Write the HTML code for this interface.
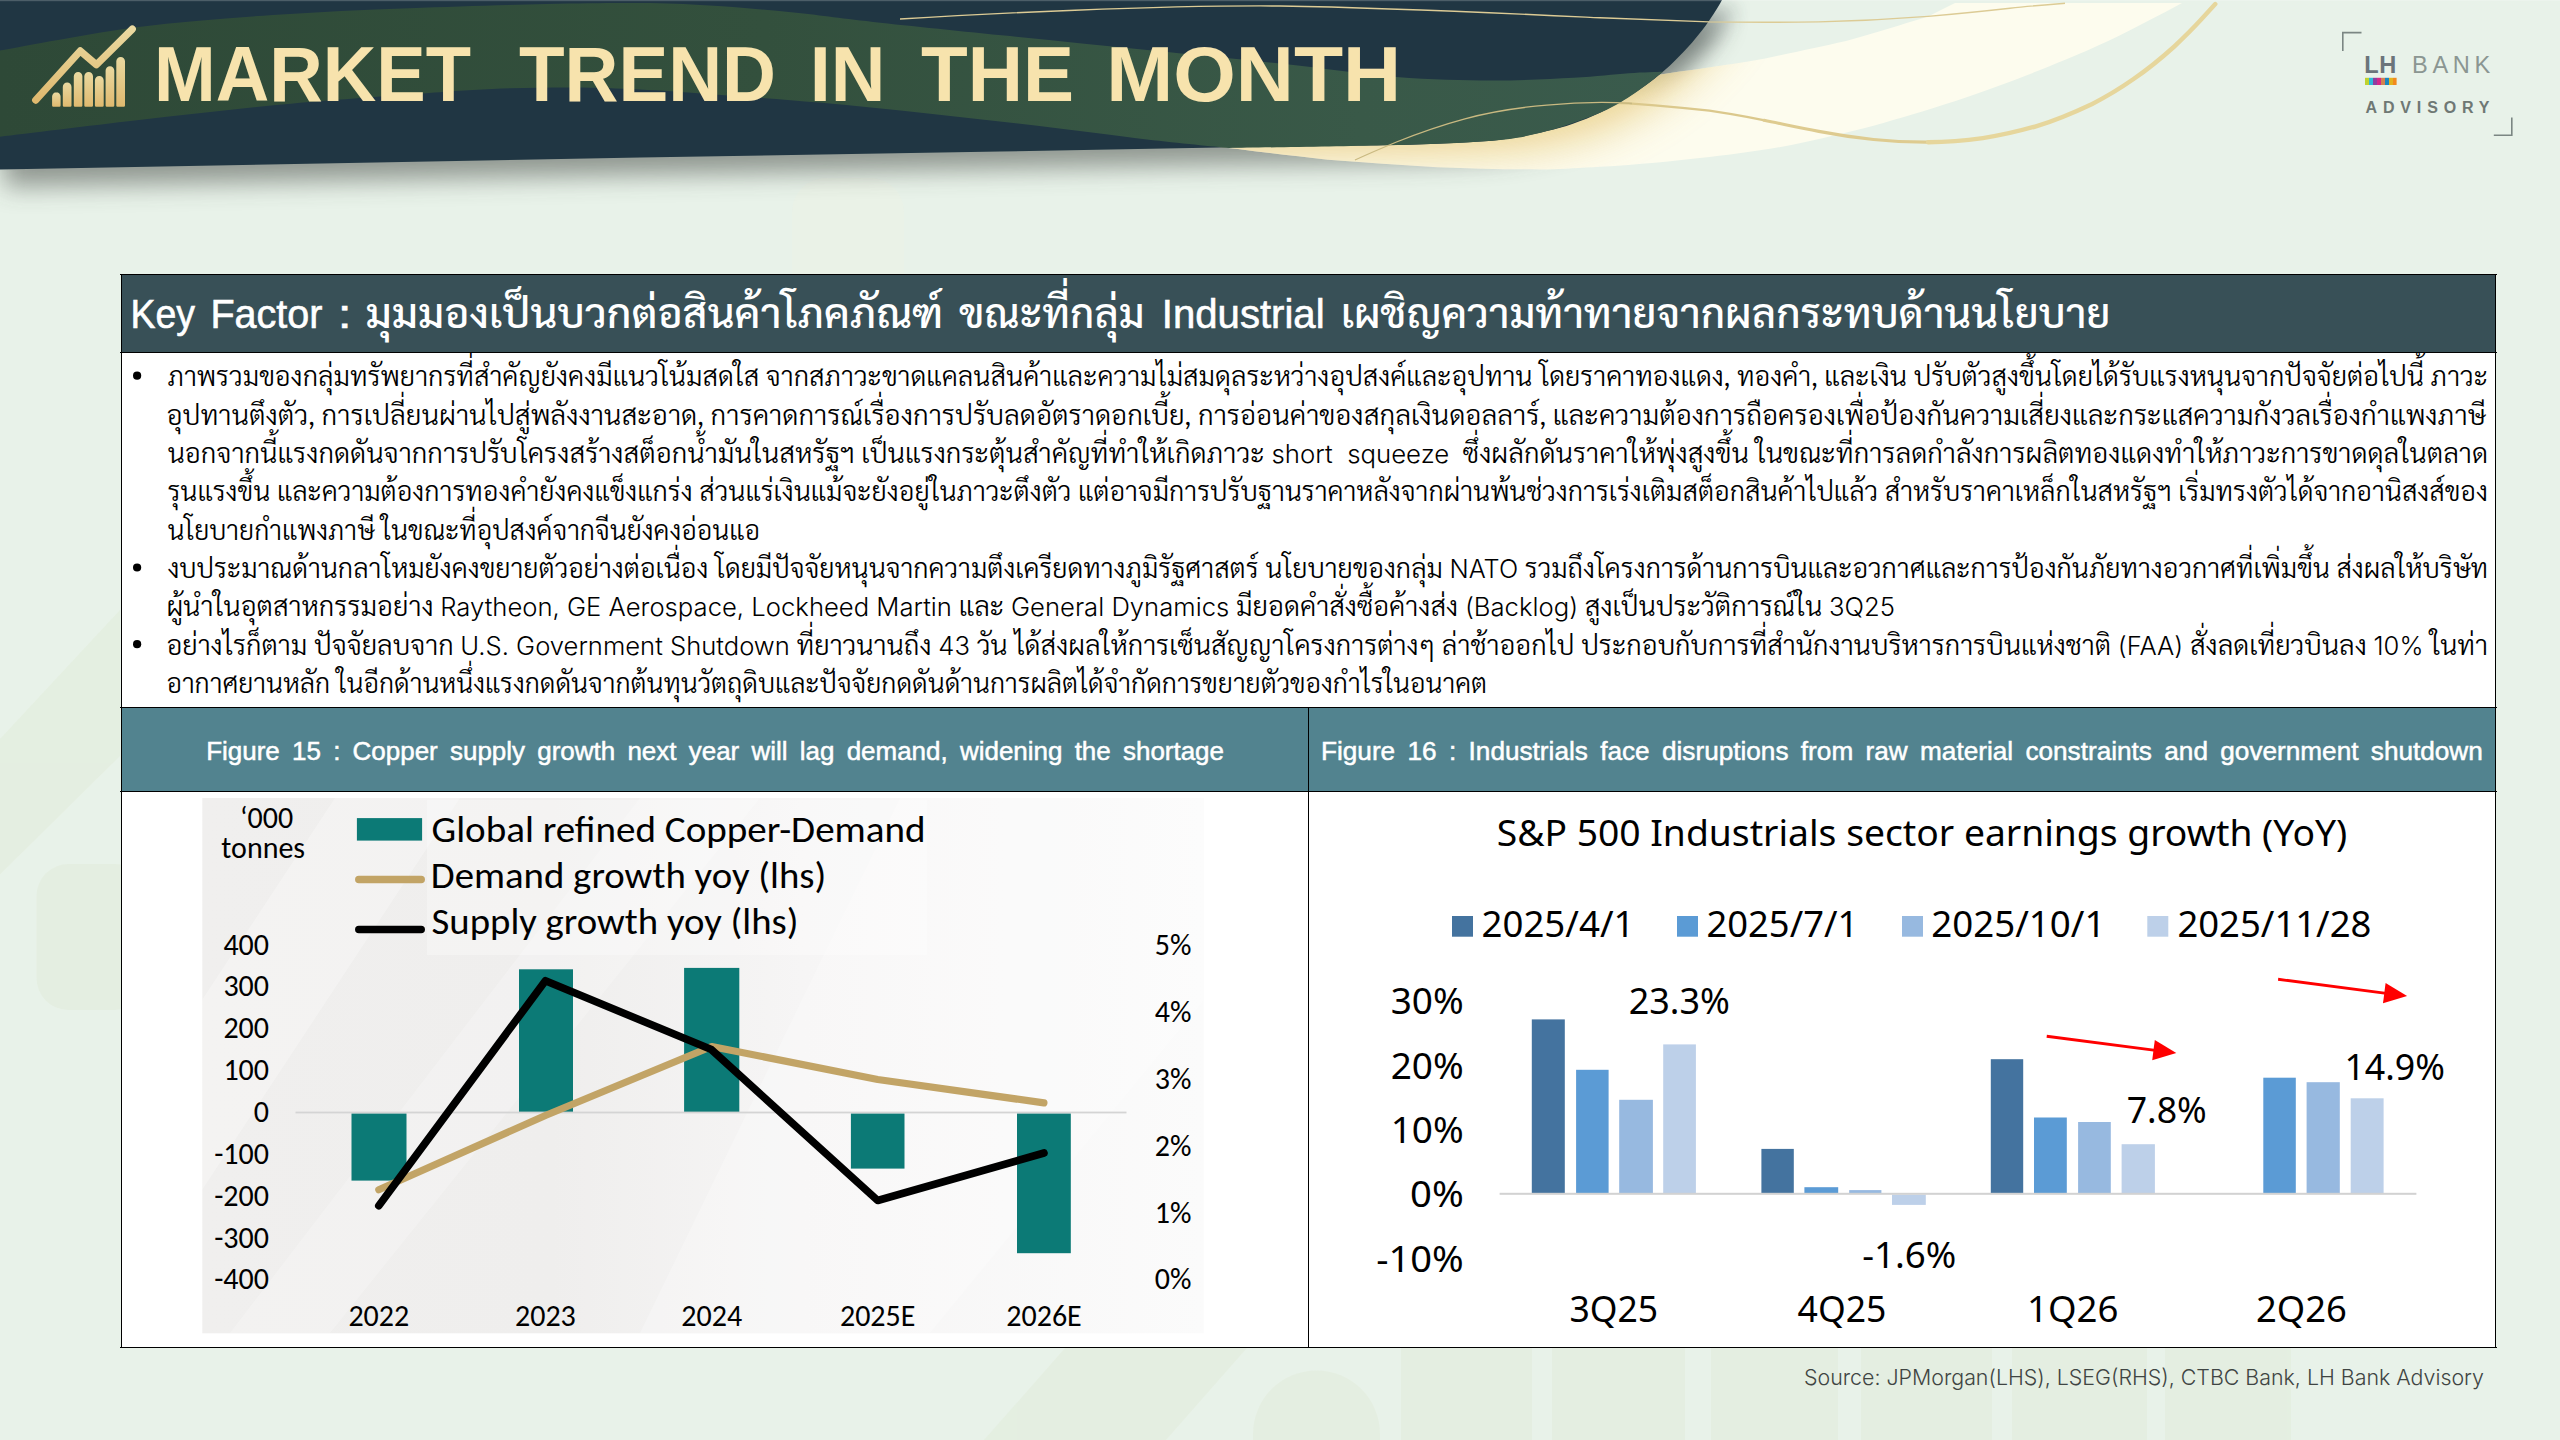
<!DOCTYPE html>
<html lang="th">
<head>
<meta charset="utf-8">
<title>Market Trend in the Month</title>
<style>
html,body{margin:0;padding:0;}
body{width:2560px;height:1440px;overflow:hidden;background:#e8f2e9;position:relative;font-family:"Liberation Sans","Sarabun","Loma","Noto Sans Thai",sans-serif;}
.abs{position:absolute;}
#bgdeco,#hdr{position:absolute;left:0;top:0;}
.ln{position:absolute;background:#000;}
#ttl{position:absolute;left:122px;top:275px;width:2373px;height:77px;background:#385057;}
#body{position:absolute;left:122px;top:353px;width:2373px;height:354px;background:#fff;}
.fh{position:absolute;top:708px;height:83px;background:#52838f;}
.cell{position:absolute;top:792px;height:555px;background:#fff;}
#src{position:absolute;left:0;top:1355px;}
#srct{font-family:"Inter","Liberation Sans","Sarabun",sans-serif;font-size:21.6px;font-weight:300;fill:#3f4543;white-space:pre}
</style>
</head>
<body>
<svg id="bgdeco" width="2560" height="1440" viewBox="0 0 2560 1440">
<g fill="#dfe8d4" opacity="0.36">
<polygon points="0,739 120,610 120,756 0,874.6"/>
<rect x="36.5" y="864" width="110" height="146" rx="32"/>
<polygon points="1065,1348 1247,1348 1166,1440 984,1440"/>
<path d="M1253,1440 L1253,1434 A63.5,63.5 0 0 1 1380,1434 L1380,1440 Z"/>
<rect x="1401" y="1348" width="131" height="92"/>
<rect x="1552" y="1348" width="133" height="92"/>
<rect x="1711" y="1348" width="127" height="92"/>
<rect x="1861" y="1348" width="131" height="92"/>
<rect x="2012" y="1348" width="135" height="92"/>
<rect x="2165" y="1348" width="126" height="92"/>
</g>
<rect x="792" y="178" width="112" height="130" rx="34" fill="#f2f3e0" opacity="0.22"/>
</svg>
<svg id="hdr" width="2560" height="270" viewBox="0 0 2560 270">
<defs>
<linearGradient id="gGreen" x1="0" y1="0" x2="1700" y2="0" gradientUnits="userSpaceOnUse">
<stop offset="0" stop-color="#2e4937"/><stop offset="0.45" stop-color="#33503d"/><stop offset="0.8" stop-color="#395948"/><stop offset="1" stop-color="#3a5b4d"/>
</linearGradient>
<linearGradient id="gCream" x1="1230" y1="0" x2="1760" y2="0" gradientUnits="userSpaceOnUse">
<stop offset="0" stop-color="#f0dc9f"/><stop offset="0.35" stop-color="#f4e6b6"/><stop offset="0.7" stop-color="#fbf6dc"/><stop offset="1" stop-color="#fdfcee"/>
</linearGradient>
<linearGradient id="gGold" x1="0" y1="0" x2="0" y2="1">
<stop offset="0" stop-color="#ead9a0"/><stop offset="1" stop-color="#dfb96f"/>
</linearGradient>
<filter id="fSh" x="-5%" y="-30%" width="110%" height="180%"><feGaussianBlur stdDeviation="9"/></filter>
<filter id="fSh2" x="-5%" y="-30%" width="110%" height="220%"><feGaussianBlur stdDeviation="13"/></filter>
<filter id="fGl" x="-5%" y="-30%" width="110%" height="180%"><feGaussianBlur stdDeviation="22"/></filter>
<linearGradient id="gUp" x1="0" y1="45" x2="0" y2="105" gradientUnits="userSpaceOnUse"><stop offset="0" stop-color="#fff"/><stop offset="1" stop-color="#000"/></linearGradient>
<mask id="mUp" maskUnits="userSpaceOnUse" x="0" y="0" width="2560" height="270"><rect x="0" y="0" width="2560" height="270" fill="url(#gUp)"/></mask>
<clipPath id="cpCream"><path d="M1150,120 L1646,76.6 C1690,70 1730,65 1764,58.8 C1795,52 1820,47 1846,41 C1875,33 1900,25 1928,16.4 L1955,3 L2182,3 C2160,15 2140,25 2119.6,35.5 C2090,50 2065,60 2037.5,71 C2010,82 1985,91 1955.5,101 C1925,111 1900,118 1873.5,125.8 C1845,133 1820,139 1791.4,145 C1765,150 1740,153.5 1709.4,157 C1670,161.5 1640,164.5 1600,166.8 C1580,168 1565,169 1547,169.4 C1510,169.5 1475,168.6 1437.5,167.2 C1400,165 1365,162.7 1328,159.8 C1295,156 1265,152.5 1238,148.9 L1150,140 Z"/></clipPath>
<path id="pNavy" d="M0,0 L1722,0 C1712,18 1697,40 1670,65.5 C1650,84 1625,100 1601.6,112 C1580,122 1565,127 1546.9,131.1 C1525,136.5 1510,138.7 1492.2,140.7 C1455,143.6 1420,144.6 1382.8,145.3 L1218.8,147.5 L1000,151.6 L640,157.5 L0,169.5 Z"/>
</defs>
<!-- shadow below band -->
<use href="#pNavy" transform="translate(4,17)" fill="#3d423d" opacity="0.52" filter="url(#fSh2)"/>
<!-- cream swoosh -->
<path d="M1150,120 L1646,76.6 C1690,70 1730,65 1764,58.8 C1795,52 1820,47 1846,41 C1875,33 1900,25 1928,16.4 L1955,3 L2182,3 C2160,15 2140,25 2119.6,35.5 C2090,50 2065,60 2037.5,71 C2010,82 1985,91 1955.5,101 C1925,111 1900,118 1873.5,125.8 C1845,133 1820,139 1791.4,145 C1765,150 1740,153.5 1709.4,157 C1670,161.5 1640,164.5 1600,166.8 C1580,168 1565,169 1547,169.4 C1510,169.5 1475,168.6 1437.5,167.2 C1400,165 1365,162.7 1328,159.8 C1295,156 1265,152.5 1238,148.9 L1150,140 Z" fill="#fdfcee"/>
<g clip-path="url(#cpCream)"><use href="#pNavy" transform="translate(18,8)" fill="#e6c878" opacity="0.82" filter="url(#fGl)"/></g>
<!-- grey shadow right of dark shape -->
<g opacity="0.2" mask="url(#mUp)"><use href="#pNavy" transform="translate(16,6)" fill="#27343a" filter="url(#fSh)"/></g>
<!-- gold lines -->
<path d="M1601.6,102.4 C1620,102.8 1636,103.6 1654.7,105.3 C1675,107 1690,108.5 1709.4,110.7 C1730,113.5 1745,116.5 1764.1,120.3" fill="none" stroke="#dbc88c" stroke-width="2.2" stroke-linecap="round"/>
<path d="M1764.1,120.3 C1785,124.5 1800,128 1818.8,131.3 C1838,135 1855,137.5 1873.5,139.5 C1892,141.5 1908,142.3 1928.1,142.2" fill="none" stroke="#decb90" stroke-width="3.2" stroke-linecap="round"/>
<path d="M1928.1,142.2 C1948,142 1963,140.8 1982.8,138.1 C2003,135 2018,131.5 2037.5,125.8 C2058,119.5 2073,113 2092.2,103.9 C2108,96 2120,88.5 2133.2,79.3 C2149,68.5 2161,58.5 2174.3,46.5 C2185,36.5 2193,28.5 2201.6,19.1 L2215.3,4.1" fill="none" stroke="#e6d69c" stroke-width="4.4" stroke-linecap="round"/>
<!-- dark band -->
<use href="#pNavy" fill="#203643"/>
<path d="M0.0,50.6 C22.8,46.7 91.2,33.2 136.7,27.3 C182.2,21.4 227.4,18.2 273.0,15.0 C318.6,11.8 364.3,10.0 410.0,8.2 C455.7,6.4 508.7,4.9 547.0,4.0 C585.3,3.1 613.0,2.8 640.0,3.0 C667.0,3.2 683.8,4.0 709.0,5.5 C734.2,7.0 763.7,9.6 791.0,12.3 C818.3,15.0 836.5,17.9 873.0,21.9 C909.5,25.9 964.3,31.4 1010.0,36.1 C1055.7,40.8 1102.0,45.4 1147.0,50.0 C1192.0,54.6 1238.5,59.1 1280.0,63.6 C1321.5,68.1 1360.7,74.2 1396.0,77.0 C1431.3,79.8 1462.3,80.4 1492.0,80.5 C1521.7,80.6 1551.2,79.0 1574.0,77.8 C1596.8,76.6 1614.2,74.3 1629.0,73.3 C1643.8,72.3 1657.3,72.0 1663.0,71.8 C1658.3,75.3 1645.2,86.3 1635.0,93.0 C1624.8,99.7 1616.3,105.7 1601.6,112.0 C1586.9,118.3 1565.1,126.3 1546.9,131.1 C1528.7,135.9 1519.6,138.3 1492.2,140.7 C1464.8,143.1 1426.7,144.1 1382.8,145.3 C1338.9,146.5 1254.6,147.6 1229.0,148.0 C1215.3,146.6 1178.9,143.2 1147.0,139.5 C1115.1,135.8 1074.0,130.1 1037.5,125.8 C1001.0,121.5 964.4,117.4 928.0,113.5 C891.6,109.6 855.5,105.8 819.0,102.5 C782.5,99.2 738.8,96.2 709.0,94.0 C679.2,91.8 662.5,90.6 640.0,89.5 C617.5,88.4 598.7,87.6 574.0,87.5 C549.3,87.4 519.3,87.8 492.0,88.9 C464.7,90.0 446.4,91.6 410.0,94.3 C373.6,97.0 318.9,101.0 273.4,105.3 C227.8,109.6 182.3,115.1 136.7,120.3 C91.1,125.5 22.8,134.0 0.0,136.7 Z" fill="url(#gGreen)"/>
<path d="M900,19 C980,14 1160,5 1280,6 C1400,8 1500,13 1600,17.8 C1650,20 1680,21 1709,21.9 C1750,22.5 1780,22.5 1818.8,21.9 C1860,21 1895,19 1928,16.4 C1960,13.5 1985,11 2010,8.2 C2030,6 2050,4.5 2065,3.3" fill="none" stroke="#dccb95" stroke-width="1.4"/>
<path d="M1355,160 C1368,154 1382,148 1396.5,142 C1420,132.5 1440,125.5 1464.9,118.8 C1492,111.5 1518,107.5 1546.9,105.1 C1566,103.4 1582,102.6 1601.6,102.4 C1612,102.5 1622,102.9 1632,103.5" fill="none" stroke="#c9b981" stroke-width="1.3"/>
<!-- top strip -->
<rect x="0" y="0" width="2560" height="1.2" fill="#ffffff" opacity="0.2"/>
<!-- icon -->
<g>
<polyline points="35.7,100.2 80.3,50.9 96.4,64.7 132.3,29.1" fill="none" stroke="url(#gGold)" stroke-width="7.2" stroke-linecap="round" stroke-linejoin="round"/>
<g fill="url(#gGold)">
<path d="M52.1,105.6 v-9.1 a4.3,4.3 0 0 1 4.3,-4.3 h-0.1 a4.3,4.3 0 0 1 4.3,4.3 v9.1 a1.2,1.2 0 0 1 -1.2,1.2 h-6.1 a1.2,1.2 0 0 1 -1.2,-1.2 z"/>
<path d="M62.8,105.6 v-18.7 a4.3,4.3 0 0 1 4.3,-4.3 h0.1 a4.3,4.3 0 0 1 4.3,4.3 v18.7 a1.2,1.2 0 0 1 -1.2,1.2 h-6.3 a1.2,1.2 0 0 1 -1.2,-1.2 z"/>
<path d="M73.8,105.6 v-29.4 a4.3,4.3 0 0 1 4.3,-4.3 h0.0 a4.3,4.3 0 0 1 4.3,4.3 v29.4 a1.2,1.2 0 0 1 -1.2,1.2 h-6.2 a1.2,1.2 0 0 1 -1.2,-1.2 z"/>
<path d="M84.3,105.6 v-29.4 a4.3,4.3 0 0 1 4.3,-4.3 h0.1 a4.3,4.3 0 0 1 4.3,4.3 v29.4 a1.2,1.2 0 0 1 -1.2,1.2 h-6.3 a1.2,1.2 0 0 1 -1.2,-1.2 z"/>
<path d="M94.9,105.6 v-25.2 a4.3,4.3 0 0 1 4.3,-4.3 h0.2 a4.3,4.3 0 0 1 4.3,4.3 v25.2 a1.2,1.2 0 0 1 -1.2,1.2 h-6.4 a1.2,1.2 0 0 1 -1.2,-1.2 z"/>
<path d="M105.6,105.6 v-35.1 a4.3,4.3 0 0 1 4.3,-4.3 h0.1 a4.3,4.3 0 0 1 4.3,4.3 v35.1 a1.2,1.2 0 0 1 -1.2,1.2 h-6.3 a1.2,1.2 0 0 1 -1.2,-1.2 z"/>
<path d="M116.3,105.6 v-44.3 a4.3,4.3 0 0 1 4.3,-4.3 h0.1 a4.3,4.3 0 0 1 4.3,4.3 v44.3 a1.2,1.2 0 0 1 -1.2,1.2 h-6.3 a1.2,1.2 0 0 1 -1.2,-1.2 z"/>
</g>
</g>
<text id="mtitle" y="101.3" font-family="'Liberation Sans',sans-serif" font-weight="700" font-size="78" fill="#f7e3ad"><tspan x="154.0" textLength="317.0" lengthAdjust="spacingAndGlyphs">MARKET</tspan> <tspan x="519.0" textLength="257.0" lengthAdjust="spacingAndGlyphs">TREND</tspan> <tspan x="809.7" textLength="75.7" lengthAdjust="spacingAndGlyphs">IN</tspan> <tspan x="921.0" textLength="153.0" lengthAdjust="spacingAndGlyphs">THE</tspan> <tspan x="1106.3" textLength="294.8" lengthAdjust="spacingAndGlyphs">MONTH</tspan></text>
<!-- logo -->
<g fill="none" stroke="#7b8683" stroke-width="1.6">
<polyline points="2342.8,51 2342.8,32.6 2361.5,32.6"/>
<polyline points="2493.8,135.3 2511.8,135.3 2511.8,117.5"/>
</g>
<text x="2364.3" y="72.5" font-family="'Liberation Sans',sans-serif" font-weight="700" font-size="23.6" fill="#6b747a" letter-spacing="0.5">LH</text>
<text id="lbank" x="2412" y="72.5" font-family="'Liberation Sans',sans-serif" font-size="23.6" fill="#8b9692" letter-spacing="4.7">BANK</text>
<g>
<rect x="2365" y="77.8" width="4" height="7.2" fill="#bfd22f"/><rect x="2369" y="77.8" width="4" height="7.2" fill="#2fb9da"/><rect x="2373" y="77.8" width="4" height="7.2" fill="#8f3f9f"/><rect x="2377" y="77.8" width="4" height="7.2" fill="#d4278a"/><rect x="2381" y="77.8" width="4" height="7.2" fill="#d3834f"/><rect x="2385" y="77.8" width="4" height="7.2" fill="#1a86c0"/><rect x="2389" y="77.8" width="4" height="7.2" fill="#e3b21f"/><rect x="2393" y="77.8" width="3.6" height="7.2" fill="#f28a1e"/>
</g>
<text id="ladv" x="2365.5" y="113" font-family="'Liberation Sans',sans-serif" font-weight="700" font-size="16" fill="#6f7874" letter-spacing="5.85">ADVISORY</text>
</svg>
<div id="ttl"></div>
<div id="body"></div>
<div class="fh" style="left:122px;width:1186px"></div>
<div class="fh" style="left:1309px;width:1186px"></div>
<div class="cell" style="left:122px;width:1186px"></div>
<div class="cell" style="left:1309px;width:1186px"></div>
<svg id="ttxt" class="abs" style="left:0;top:275px" width="2560" height="77" viewBox="0 275 2560 77">
<style>#ttxt text{fill:#fff;white-space:pre}#ttxt .th{font-family:"Sarabun","Loma","Noto Sans Thai","Liberation Sans",sans-serif;font-size:41.5px;font-weight:500}#ttxt .la{font-family:"Liberation Sans","Sarabun",sans-serif;font-size:40px;font-weight:400;stroke:#fff;stroke-width:0.6px}</style>
<text id="tt0" class="la" x="130.46" y="328.3" textLength="64.54" lengthAdjust="spacingAndGlyphs">Key</text>
<text id="tt1" class="la" x="210.47" y="328.3" textLength="112.02" lengthAdjust="spacingAndGlyphs">Factor</text>
<text id="tt2" class="la" x="337.69" y="328.3" textLength="13.84" lengthAdjust="spacingAndGlyphs">:</text>
<text id="tt3" class="th" x="365.49" y="328.3" textLength="577.52" lengthAdjust="spacingAndGlyphs">มุมมองเป็นบวกต่อสินค้าโภคภัณฑ์</text>
<text id="tt4" class="th" x="959.00" y="328.3" textLength="185.52" lengthAdjust="spacingAndGlyphs">ขณะที่กลุ่ม</text>
<text id="tt5" class="la" x="1161.89" y="328.3" textLength="162.68" lengthAdjust="spacingAndGlyphs">Industrial</text>
<text id="tt6" class="th" x="1340.73" y="328.3" textLength="769.79" lengthAdjust="spacingAndGlyphs">เผชิญความท้าทายจากผลกระทบด้านนโยบาย</text>
</svg>
<svg id="btxt" class="abs" style="left:0;top:353px" width="2560" height="354" viewBox="0 353 2560 354">
<style>#btxt text{font-family:"Sarabun","Loma","Noto Sans Thai","Liberation Sans",sans-serif;font-size:26.8px;font-weight:300;fill:#000;white-space:pre}#btxt .la{font-family:"Inter","Liberation Sans","Sarabun",sans-serif;font-size:25.2px;font-weight:300}</style>
<text id="bl0" x="167.40" y="386.30" textLength="2320.60" lengthAdjust="spacingAndGlyphs">ภาพรวมของกลุ่มทรัพยากรที่สำคัญยังคงมีแนวโน้มสดใส จากสภาวะขาดแคลนสินค้าและความไม่สมดุลระหว่างอุปสงค์และอุปทาน โดยราคาทองแดง, ทองคำ, และเงิน ปรับตัวสูงขึ้นโดยได้รับแรงหนุนจากปัจจัยต่อไปนี้ ภาวะ</text>
<text id="bl1" x="166.40" y="424.66" textLength="2319.60" lengthAdjust="spacingAndGlyphs">อุปทานตึงตัว, การเปลี่ยนผ่านไปสู่พลังงานสะอาด, การคาดการณ์เรื่องการปรับลดอัตราดอกเบี้ย, การอ่อนค่าของสกุลเงินดอลลาร์, และความต้องการถือครองเพื่อป้องกันความเสี่ยงและกระแสความกังวลเรื่องกำแพงภาษี</text>
<text id="bl2" x="167.40" y="463.02" textLength="2320.60" lengthAdjust="spacingAndGlyphs">นอกจากนี้แรงกดดันจากการปรับโครงสร้างสต็อกน้ำมันในสหรัฐฯ เป็นแรงกระตุ้นสำคัญที่ทำให้เกิดภาวะ <tspan class="la">short  squeeze</tspan>  ซึ่งผลักดันราคาให้พุ่งสูงขึ้น ในขณะที่การลดกำลังการผลิตทองแดงทำให้ภาวะการขาดดุลในตลาด</text>
<text id="bl3" x="167.40" y="501.38" textLength="2320.60" lengthAdjust="spacingAndGlyphs">รุนแรงขึ้น และความต้องการทองคำยังคงแข็งแกร่ง ส่วนแร่เงินแม้จะยังอยู่ในภาวะตึงตัว แต่อาจมีการปรับฐานราคาหลังจากผ่านพ้นช่วงการเร่งเติมสต็อกสินค้าไปแล้ว สำหรับราคาเหล็กในสหรัฐฯ เริ่มทรงตัวได้จากอานิสงส์ของ</text>
<text id="bl4" x="167.40" y="539.74" textLength="592.60" lengthAdjust="spacingAndGlyphs">นโยบายกำแพงภาษี ในขณะที่อุปสงค์จากจีนยังคงอ่อนแอ</text>
<text id="bl5" x="167.40" y="578.10" textLength="2320.60" lengthAdjust="spacingAndGlyphs">งบประมาณด้านกลาโหมยังคงขยายตัวอย่างต่อเนื่อง โดยมีปัจจัยหนุนจากความตึงเครียดทางภูมิรัฐศาสตร์ นโยบายของกลุ่ม <tspan class="la">NATO</tspan> รวมถึงโครงการด้านการบินและอวกาศและการป้องกันภัยทางอวกาศที่เพิ่มขึ้น ส่งผลให้บริษัท</text>
<text id="bl6" x="166.40" y="616.46" textLength="1728.60" lengthAdjust="spacingAndGlyphs">ผู้นำในอุตสาหกรรมอย่าง <tspan class="la">Raytheon, GE Aerospace, Lockheed Martin</tspan> และ <tspan class="la">General Dynamics</tspan> มียอดคำสั่งซื้อค้างส่ง <tspan class="la">(</tspan><tspan class="la">Backlog)</tspan> สูงเป็นประวัติการณ์ใน <tspan class="la">3Q25</tspan></text>
<text id="bl7" x="166.40" y="654.82" textLength="2321.60" lengthAdjust="spacingAndGlyphs">อย่างไรก็ตาม ปัจจัยลบจาก <tspan class="la">U.S. Government Shutdown</tspan> ที่ยาวนานถึง <tspan class="la">43</tspan> วัน ได้ส่งผลให้การเซ็นสัญญาโครงการต่างๆ ล่าช้าออกไป ประกอบกับการที่สำนักงานบริหารการบินแห่งชาติ <tspan class="la">(</tspan><tspan class="la">FAA)</tspan> สั่งลดเที่ยวบินลง <tspan class="la">10%</tspan> ในท่า</text>
<text id="bl8" x="166.40" y="693.18" textLength="1320.60" lengthAdjust="spacingAndGlyphs">อากาศยานหลัก ในอีกด้านหนึ่งแรงกดดันจากต้นทุนวัตถุดิบและปัจจัยกดดันด้านการผลิตได้จำกัดการขยายตัวของกำไรในอนาคต</text>
<circle cx="137.1" cy="375.7" r="4.1" fill="#000"/>
<circle cx="137.1" cy="567.5" r="4.1" fill="#000"/>
<circle cx="137.1" cy="644.2" r="4.1" fill="#000"/>
</svg>
<svg id="ftxt" class="abs" style="left:0;top:708px" width="2560" height="83" viewBox="0 708 2560 83">
<style>#ftxt text{font-family:"Liberation Sans","Sarabun",sans-serif;font-size:25.7px;font-weight:400;fill:#fff;stroke:#fff;stroke-width:0.5px;word-spacing:5px;white-space:pre}</style>
<text id="fh0" x="206.20" y="760" textLength="1017.80" lengthAdjust="spacingAndGlyphs">Figure 15 : Copper supply growth next year will lag demand, widening the shortage</text>
<text id="fh1" x="1321.00" y="760" textLength="1161.80" lengthAdjust="spacingAndGlyphs">Figure 16 : Industrials face disruptions from raw material constraints and government shutdown</text>
</svg>
<svg id="ch1" class="abs" style="left:122px;top:792px" width="1186" height="555" viewBox="122 792 1186 555">
<defs>
<linearGradient id="c1bg" x1="202" y1="0" x2="1204" y2="0" gradientUnits="userSpaceOnUse">
<stop offset="0" stop-color="#f0efee"/><stop offset="0.35" stop-color="#efeeed"/><stop offset="0.6" stop-color="#f6f5f5"/><stop offset="1" stop-color="#fbfbfb"/>
</linearGradient>
<clipPath id="c1clip"><rect x="202.3" y="798" width="1001.5" height="535.3"/></clipPath>
</defs>
<rect x="202.3" y="798" width="1001.5" height="535.3" fill="url(#c1bg)"/>
<g clip-path="url(#c1clip)">
<polygon points="335,798 460,798 202,1190 202,1000" fill="#ffffff" opacity="0.28"/>
<polygon points="640,798 760,798 330,1333 230,1333" fill="#ffffff" opacity="0.22"/>
<polygon points="900,798 1204,798 1204,1000 930,1333 640,1333" fill="#ffffff" opacity="0.25"/>
<rect x="427" y="800" width="500" height="155" fill="#ffffff" opacity="0.3"/>
</g>
<style>#ch1 text{font-family:"Carlito","Liberation Sans",sans-serif;fill:#000}#ch1 .ax{font-size:30px}#ch1 .lg{font-size:37px}</style>
<!-- bars -->
<g fill="#0c7a76">
<rect x="351.5" y="1113.4" width="55" height="67.2"/>
<rect x="519" y="969.3" width="54" height="143.2"/>
<rect x="684.1" y="967.9" width="55.2" height="144.6"/>
<rect x="850.9" y="1113.4" width="53.6" height="55.2"/>
<rect x="1017" y="1113.4" width="53.8" height="139.8"/>
</g>
<rect x="295.5" y="1111.6" width="831" height="1.8" fill="#d4d4d4"/>
<!-- lines -->
<polyline points="378.8,1189.7 545.4,1115.5 711.7,1046.5 877.7,1079.5 1043.9,1102.9" fill="none" stroke="#c2a466" stroke-width="7.2" stroke-linecap="round" stroke-linejoin="round"/>
<polyline points="378.8,1205.7 545.4,980.7 711.4,1049.6 877.7,1200.5 1044,1153" fill="none" stroke="#000" stroke-width="7.6" stroke-linecap="round" stroke-linejoin="round"/>
<!-- legend -->
<rect x="356.9" y="818.1" width="65.2" height="22.5" fill="#0c7a76"/>
<line x1="358.8" y1="879.4" x2="421.2" y2="879.4" stroke="#c2a466" stroke-width="7.5" stroke-linecap="round"/>
<line x1="358.8" y1="929.4" x2="421.2" y2="929.4" stroke="#000" stroke-width="7.5" stroke-linecap="round"/>
<text class="lg" x="431.5" y="841.6" textLength="494" lengthAdjust="spacingAndGlyphs">Global refined Copper-Demand</text>
<text class="lg" x="430.8" y="887.7" textLength="395.5" lengthAdjust="spacingAndGlyphs">Demand growth yoy (lhs)</text>
<text class="lg" x="431.5" y="934.1" textLength="367" lengthAdjust="spacingAndGlyphs">Supply growth yoy (lhs)</text>
<!-- axis labels -->
<text class="ax" x="266.6" y="828.0" text-anchor="middle">‘000</text>
<text class="ax" x="263.2" y="858.0" text-anchor="middle">tonnes</text>
<g class="ax" text-anchor="end">
<text class="ax" x="269" y="954.8">400</text>
<text class="ax" x="269" y="996.2">300</text>
<text class="ax" x="269" y="1038.2">200</text>
<text class="ax" x="269" y="1079.6">100</text>
<text class="ax" x="269" y="1122.0">0</text>
<text class="ax" x="269" y="1164.2">-100</text>
<text class="ax" x="269" y="1206.0">-200</text>
<text class="ax" x="269" y="1247.6">-300</text>
<text class="ax" x="269" y="1288.9">-400</text>
</g>
<g text-anchor="end">
<text class="ax" x="1191.5" y="954.8">5%</text>
<text class="ax" x="1191.5" y="1021.7">4%</text>
<text class="ax" x="1191.5" y="1088.6">3%</text>
<text class="ax" x="1191.5" y="1155.5">2%</text>
<text class="ax" x="1191.5" y="1222.5">1%</text>
<text class="ax" x="1191.5" y="1288.8">0%</text>
</g>
<g text-anchor="middle">
<text class="ax" x="378.8" y="1326.4">2022</text>
<text class="ax" x="545.4" y="1326.4">2023</text>
<text class="ax" x="711.7" y="1326.4">2024</text>
<text class="ax" x="877.7" y="1326.4">2025E</text>
<text class="ax" x="1044" y="1326.4">2026E</text>
</g>
</svg>

<svg id="ch2" class="abs" style="left:1309px;top:792px" width="1186" height="555" viewBox="1309 792 1186 555">
<style>#ch2 text{font-family:"Noto Sans","Open Sans","Liberation Sans",sans-serif;fill:#000;font-size:35.8px}#ch2 .tt{font-size:36px}</style>
<rect x="1531.8" y="1019.4" width="33.0" height="174.4" fill="#44739f"/>
<rect x="1576.1" y="1069.8" width="32.5" height="124.0" fill="#5b9bd5"/>
<rect x="1619.2" y="1099.8" width="33.7" height="94.0" fill="#97b9e0"/>
<rect x="1663.2" y="1044.4" width="32.7" height="149.4" fill="#bdd0e9"/>
<rect x="1761.4" y="1148.9" width="32.4" height="44.9" fill="#44739f"/>
<rect x="1804.4" y="1187.2" width="33.8" height="6.6" fill="#5b9bd5"/>
<rect x="1849.2" y="1190.1" width="32.2" height="3.7" fill="#97b9e0"/>
<rect x="1990.8" y="1059.2" width="32.4" height="134.6" fill="#44739f"/>
<rect x="2034.0" y="1117.5" width="32.8" height="76.3" fill="#5b9bd5"/>
<rect x="2078.1" y="1122.0" width="32.7" height="71.8" fill="#97b9e0"/>
<rect x="2121.6" y="1144.2" width="33.3" height="49.6" fill="#bdd0e9"/>
<rect x="2263.3" y="1077.7" width="32.5" height="116.1" fill="#5b9bd5"/>
<rect x="2306.6" y="1082.2" width="33.2" height="111.6" fill="#97b9e0"/>
<rect x="2350.7" y="1098.3" width="32.9" height="95.5" fill="#bdd0e9"/>
<rect x="1892" y="1194.6" width="33.8" height="10.3" fill="#bdd0e9"/>
<rect x="1499.6" y="1192.8" width="916.8" height="2" fill="#d2d2d2"/>
<rect x="1452.0" y="916" width="21" height="20.7" fill="#44739f"/>
<rect x="1677.0" y="916" width="21" height="20.7" fill="#5b9bd5"/>
<rect x="1902.0" y="916" width="21" height="20.7" fill="#97b9e0"/>
<rect x="2147.3" y="916" width="21" height="20.7" fill="#bdd0e9"/>
<text id="c2t" class="tt" x="1496.7" y="845.6" textLength="850.6" lengthAdjust="spacingAndGlyphs">S&amp;P 500 Industrials sector earnings growth (YoY)</text>
<text id="c2l0" x="1481.5" y="937.3" textLength="153.0" lengthAdjust="spacingAndGlyphs">2025/4/1</text>
<text id="c2l1" x="1706.5" y="937.3" textLength="151.8" lengthAdjust="spacingAndGlyphs">2025/7/1</text>
<text id="c2l2" x="1931.3" y="937.3" textLength="174.1" lengthAdjust="spacingAndGlyphs">2025/10/1</text>
<text id="c2l3" x="2177.4" y="937.3" textLength="194.0" lengthAdjust="spacingAndGlyphs">2025/11/28</text>
<text id="c2y0" x="1390.7" y="1013.5" textLength="73.0" lengthAdjust="spacingAndGlyphs">30%</text>
<text id="c2y1" x="1390.7" y="1079.0" textLength="73.0" lengthAdjust="spacingAndGlyphs">20%</text>
<text id="c2y2" x="1390.7" y="1143.3" textLength="73.0" lengthAdjust="spacingAndGlyphs">10%</text>
<text id="c2y3" x="1410.0" y="1206.9" textLength="53.7" lengthAdjust="spacingAndGlyphs">0%</text>
<text id="c2y4" x="1376.2" y="1272.1" textLength="87.5" lengthAdjust="spacingAndGlyphs">-10%</text>
<text id="c2d0" x="1628.7" y="1013.5" textLength="101.2" lengthAdjust="spacingAndGlyphs">23.3%</text>
<text id="c2d1" x="1862.2" y="1268.1" textLength="94.2" lengthAdjust="spacingAndGlyphs">-1.6%</text>
<text id="c2d2" x="2126.7" y="1123.0" textLength="80.1" lengthAdjust="spacingAndGlyphs">7.8%</text>
<text id="c2d3" x="2344.4" y="1079.5" textLength="100.6" lengthAdjust="spacingAndGlyphs">14.9%</text>
<text id="c2x0" x="1569.4" y="1322.3" textLength="88.7" lengthAdjust="spacingAndGlyphs">3Q25</text>
<text id="c2x1" x="1797.6" y="1322.3" textLength="88.8" lengthAdjust="spacingAndGlyphs">4Q25</text>
<text id="c2x2" x="2027.0" y="1322.3" textLength="91.4" lengthAdjust="spacingAndGlyphs">1Q26</text>
<text id="c2x3" x="2256.0" y="1322.3" textLength="90.9" lengthAdjust="spacingAndGlyphs">2Q26</text>
<line x1="2046.7" y1="1036.3" x2="2155.5" y2="1050.4" stroke="#ff0000" stroke-width="2.9"/>
<polygon points="2176.3,1053.1 2152.2,1060.3 2154.8,1040.0" fill="#ff0000"/>
<line x1="2278.1" y1="979.3" x2="2386.3" y2="993.4" stroke="#ff0000" stroke-width="2.9"/>
<polygon points="2407.1,996.1 2383.0,1003.2 2385.6,983.0" fill="#ff0000"/>
</svg>
<svg id="src" width="2560" height="40" viewBox="0 1355 2560 40"><text id="srct" x="1804.00" y="1384.6" textLength="680.00" lengthAdjust="spacingAndGlyphs">Source: JPMorgan(LHS), LSEG(RHS), CTBC Bank, LH Bank Advisory</text></svg>
<div class="ln" style="left:120.5px;top:273.9px;width:1.4px;height:1074.2px"></div>
<div class="ln" style="left:2495px;top:273.9px;width:1.4px;height:1074.2px"></div>
<div class="ln" style="left:1307.8px;top:707px;width:1.4px;height:641px"></div>
<div class="ln" style="left:120px;top:273.9px;width:2376.6px;height:1.4px"></div>
<div class="ln" style="left:120px;top:351.6px;width:2376.6px;height:1.4px"></div>
<div class="ln" style="left:120px;top:706.9px;width:2376.6px;height:1.4px"></div>
<div class="ln" style="left:120px;top:790.6px;width:2376.6px;height:1.4px"></div>
<div class="ln" style="left:120px;top:1346.7px;width:2376.6px;height:1.4px"></div>
</body>
</html>
